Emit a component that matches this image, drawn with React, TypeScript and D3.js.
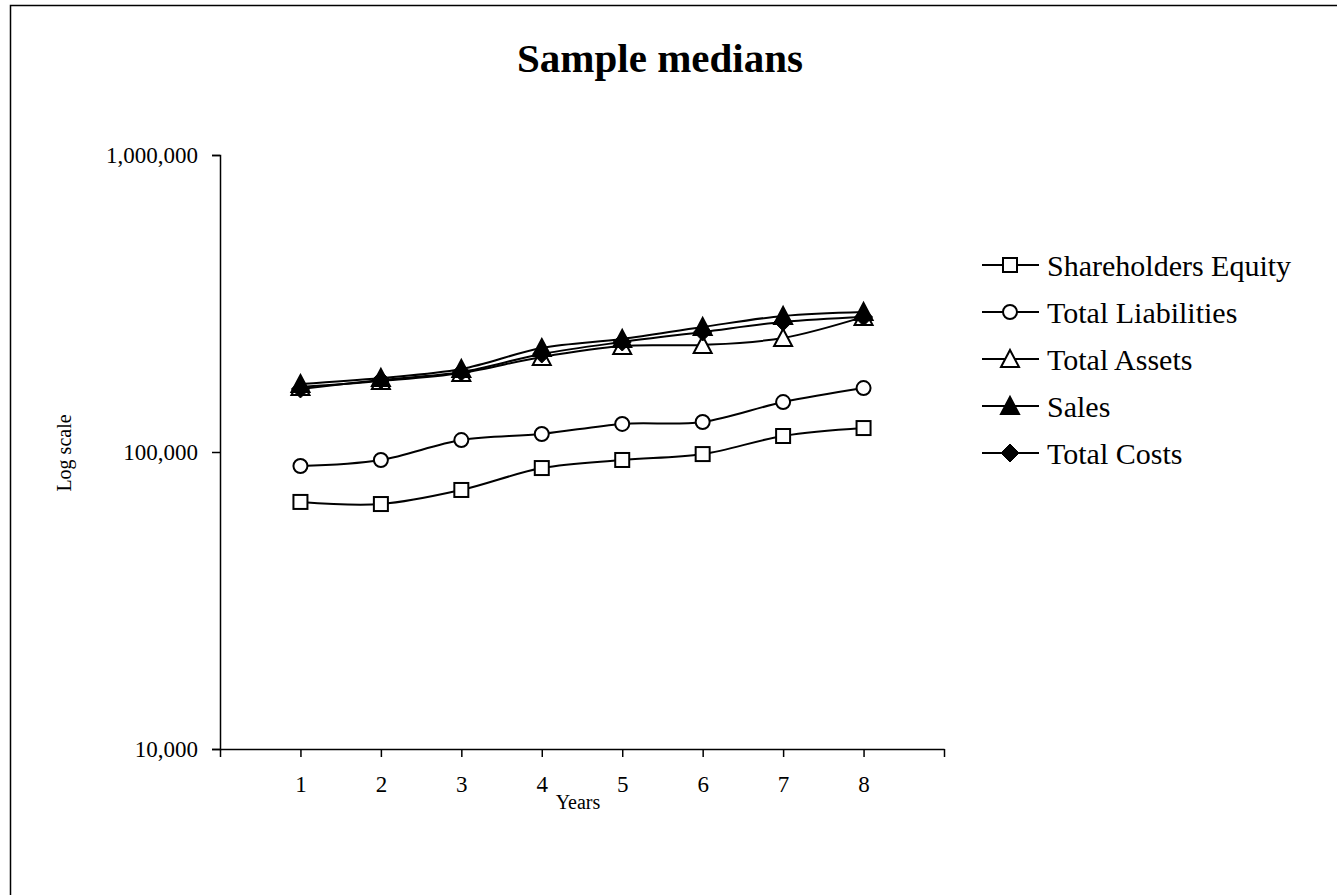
import React, { useRef, useEffect } from 'react';
import * as d3 from 'd3';

// values (log scale)
const years = [1, 2, 3, 4, 5, 6, 7, 8];
const shareholdersEquity = [67900, 66800, 74500, 88300, 94000, 98400, 113200, 120400];
const totalLiabilities = [89700, 94000, 109700, 115000, 124300, 126200, 147300, 164200];
const totalAssets = [165600, 173400, 184500, 208900, 227500, 229300, 242000, 285000];
const sales = [169400, 177500, 190300, 223900, 240200, 263600, 287100, 296100];
const totalCosts = [163000, 174700, 185900, 213800, 234600, 253500, 274000, 284800];
const seriesNames = ['Shareholders Equity', 'Total Liabilities', 'Total Assets', 'Sales', 'Total Costs'];
const markerTypes = ['square', 'circle', 'triangleOpen', 'triangle', 'diamond'];
const yTicks = [10000, 100000, 1000000];

const FONT = '"Liberation Serif", "Times New Roman", serif';

const drawMarker = (g, type, x, y) => {
  if (type === 'square') {
    g.append('rect').attr('x', x - 7).attr('y', y - 7).attr('width', 14).attr('height', 14)
      .style('fill', 'white').style('stroke', 'black').style('stroke-width', 2);
  } else if (type === 'circle') {
    g.append('circle').attr('cx', x).attr('cy', y).attr('r', 7)
      .style('fill', 'white').style('stroke', 'black').style('stroke-width', 2);
  } else if (type === 'triangleOpen' || type === 'triangle') {
    g.append('path').attr('d', `M${x},${y - 9}L${x + 9},${y + 8}L${x - 9},${y + 8}Z`)
      .style('fill', type === 'triangle' ? 'black' : 'white')
      .style('stroke', 'black').style('stroke-width', 2);
  } else {
    g.append('path').attr('d', `M${x},${y - 9}L${x + 9},${y}L${x},${y + 9}L${x - 9},${y}Z`)
      .style('fill', 'black').style('stroke', 'black').style('stroke-width', 1);
  }
};

const Chart = ({ width, height }) => {
  const ref = useRef();

  useEffect(() => {
    const svg = d3.select(ref.current)
      .attr('width', width)
      .attr('height', height)
      .style('background-color', 'white')
      .style('font-family', FONT);

    svg.selectAll('*').remove();

    const data = [shareholdersEquity, totalLiabilities, totalAssets, sales, totalCosts];

    // border
    svg.append('rect')
      .attr('x', 10.5).attr('y', 5.5)
      .attr('width', width + 20).attr('height', height + 20)
      .style('fill', 'none').style('stroke', 'black').style('stroke-width', 1.5);

    const xScale = d3.scaleLinear().domain([0, 9]).range([220, 944]);
    const yScale = d3.scaleLog().domain([10000, 1000000]).range([749, 155]);

    // y axis
    const yAxis = d3.axisLeft(yScale).tickValues(yTicks).tickSize(8).tickPadding(14)
      .tickFormat(d3.format(','));
    const yg = svg.append('g').attr('transform', 'translate(220,0)').call(yAxis);
    yg.select('.domain').style('stroke-width', 1.5);
    yg.selectAll('line').style('stroke-width', 1.5);
    yg.selectAll('text').style('font-size', '23px').style('font-family', FONT);

    // x axis
    const xAxis = d3.axisBottom(xScale).tickValues(d3.range(0, 10)).tickSize(8).tickPadding(19)
      .tickSizeOuter(0)
      .tickFormat(d => (d >= 1 && d <= 8 ? String(d) : ''));
    const xg = svg.append('g').attr('transform', 'translate(0,749)').call(xAxis);
    xg.select('.domain').style('stroke-width', 1.5);
    xg.selectAll('line').style('stroke-width', 1.5);
    xg.selectAll('text').style('font-size', '23px').style('font-family', FONT);

    // title
    svg.append('text').attr('x', 660).attr('y', 72).attr('text-anchor', 'middle')
      .style('font-size', '41px').style('font-weight', 'bold').text('Sample medians');

    // axis titles
    svg.append('text').attr('x', 578).attr('y', 809).attr('text-anchor', 'middle')
      .style('font-size', '20px').text('Years');
    svg.append('g').attr('transform', 'translate(71,453)').append('text')
      .attr('transform', 'rotate(-90)').attr('text-anchor', 'middle')
      .style('font-size', '20px').text('Log scale');

    const line = d3.line()
      .x((d, i) => xScale(years[i]))
      .y(d => yScale(d))
      .curve(d3.curveCatmullRom.alpha(0));

    data.forEach((vals, k) => {
      const g = svg.append('g');
      g.append('path').datum(vals).attr('d', line)
        .style('fill', 'none').style('stroke', 'black').style('stroke-width', 2);
      vals.forEach((v, i) => drawMarker(g, markerTypes[k], xScale(years[i]), yScale(v)));
    });

    // legend
    const legend = svg.append('g');
    seriesNames.forEach((name, k) => {
      const ly = 265 + k * 47;
      legend.append('line').attr('x1', 982).attr('x2', 1039).attr('y1', ly).attr('y2', ly)
        .style('stroke', 'black').style('stroke-width', 2);
      drawMarker(legend, markerTypes[k], 1010, ly);
      legend.append('text').attr('x', 1047).attr('y', ly).attr('dy', '0.35em')
        .style('font-size', '30px').text(name);
    });
  }, [width, height]);

  return <svg ref={ref} style={{ position: 'absolute', left: 0, top: 0 }}></svg>;
};

export default function App() {
  return <Chart width={1337} height={895} />;
}
